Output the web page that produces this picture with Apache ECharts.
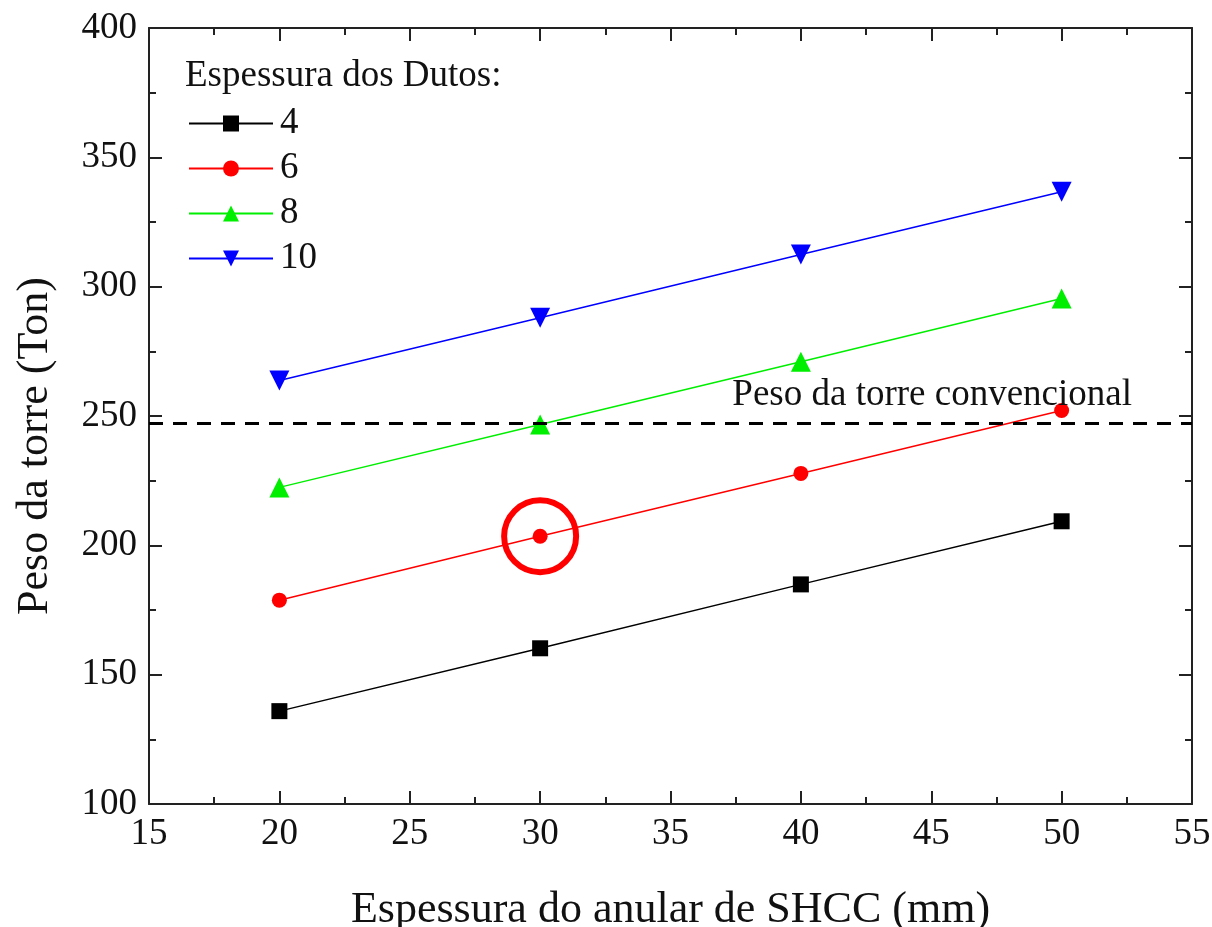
<!DOCTYPE html>
<html><head><meta charset="utf-8">
<script src="https://cdn.jsdelivr.net/npm/echarts@6/dist/echarts.min.js"></script>
<style>html,body{margin:0;padding:0;background:#fff}#c{width:1212px;height:927px}</style>
</head><body><div id="c"></div>
<script>
const xValues = [20, 30, 40, 50];
const s4 = [135.9, 160.2, 184.9, 209.3];
const s6 = [178.8, 203.5, 227.8, 252.1];
const s8 = [222.4, 246.7, 271.0, 295.4];
const s10 = [263.7, 288.0, 312.4, 336.7];
const conventional = 247.1;
const seriesNames = ['4', '6', '8', '10'];
const highlight = [30, 203.5];

const F = '"Liberation Serif", "Times New Roman", serif';
const chart = echarts.init(document.getElementById('c'));
function pts(v){ return xValues.map((x,i)=>[x, v[i]]); }
const axisCommon = {
  axisLine:{show:true, lineStyle:{color:'#222', width:2}},
  axisTick:{show:true, inside:true, length:13, lineStyle:{color:'#222', width:2}},
  minorTick:{show:true, splitNumber:2, length:7, lineStyle:{color:'#222', width:2}},
  splitLine:{show:false}
};
const mk = (name, data, color, symbol, size) => ({
  name, type:'line', data: pts(data), symbol, symbolSize:size,
  lineStyle:{color, width:1.5}, itemStyle:{color}, z:3
});
const series = [
  mk(seriesNames[0], s4, '#000000', 'rect', 16),
  mk(seriesNames[1], s6, '#ff0000', 'circle', 15),
  mk(seriesNames[2], s8, '#00ee00', 'triangle', 20),
  mk(seriesNames[3], s10, '#0000ff', 'path://M0,0 L10,0 L5,9 Z', 20)
];
series[0].markLine = {
  silent:true, symbol:'none',
  lineStyle:{color:'#000', type:[14,10], width:3},
  label:{show:true, position:'insideEndTop', formatter:'Peso da torre convencional',
    fontFamily:F, fontSize:37, color:'#111', distance:[60,10]},
  data:[{yAxis: conventional}]
};
series[1].markPoint = {
  silent:true,
  symbol:'circle', symbolSize:72,
  itemStyle:{color:'rgba(0,0,0,0)', borderColor:'#ff0000', borderWidth:6},
  label:{show:false},
  data:[{coord: highlight}]
};
chart.setOption({
  animation:false,
  grid:{left:149, right:20, top:28, bottom:123, containLabel:false, outerBoundsMode:'none'},
  xAxis:[
    Object.assign({type:'value', min:15, max:55, interval:5, position:'bottom',
      name:'Espessura do anular de SHCC (mm)', nameLocation:'middle', nameGap:84,
      nameTextStyle:{fontFamily:F, fontSize:44, color:'#111'},
      axisLabel:{fontFamily:F, fontSize:37, color:'#111', margin:12}}, axisCommon),
    Object.assign({type:'value', min:15, max:55, interval:5, position:'top',
      axisLabel:{show:false}}, axisCommon)
  ],
  yAxis:[
    Object.assign({type:'value', min:100, max:400, interval:50, position:'left',
      axisLabel:{fontFamily:F, fontSize:37, color:'#111', margin:12}}, axisCommon),
    Object.assign({type:'value', min:100, max:400, interval:50, position:'right',
      axisLabel:{show:false}}, axisCommon)
  ],
  legend:{
    left:183, top:100, orient:'vertical', itemGap:8, itemWidth:84, itemHeight:20,
    textStyle:{fontFamily:F, fontSize:37, color:'#111', padding:[0,0,0,2]},
    data: seriesNames
  },
  graphic:[
    {type:'text', left:185, top:58,
      style:{text:'Espessura dos Dutos:', font:'37px '+F, fill:'#111'}},
    {type:'text', x:35, y:446, rotation:Math.PI/2,
      style:{text:'Peso da torre (Ton)', font:'44px '+F, fill:'#111', align:'center', verticalAlign:'middle'}}
  ],
  series
});
</script></body></html>
